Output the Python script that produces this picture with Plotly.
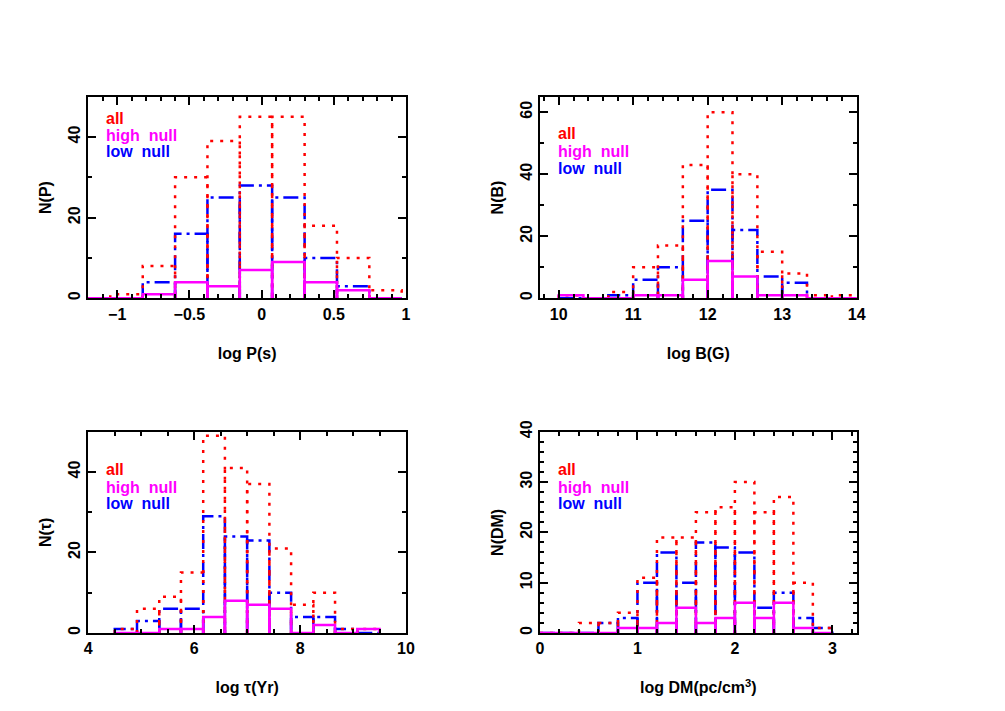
import plotly.graph_objects as go

# ---- data (bin edges + counts per bin) ----
# panel 1: log P(s)
p_edges = [-1.272, -1.048, -0.823, -0.599, -0.375, -0.151, 0.073, 0.298, 0.522, 0.746, 0.970]
p_all = [0, 1, 8, 30, 39, 45, 45, 18, 10, 2]
p_high = [0, 0, 1, 4, 3, 7, 9, 4, 2, 0]
p_low = [0, 0, 4, 16, 25, 28, 25, 10, 3, 0]

# panel 2: log B(G)
b_edges = [10.0, 10.333, 10.667, 11.0, 11.333, 11.667, 12.0, 12.333, 12.667, 13.0, 13.333, 13.667, 14.0]
b_all = [1, 0, 2, 10, 17, 43, 60, 40, 15, 8, 1, 1]
b_high = [1, 0, 0, 1, 1, 6, 12, 7, 1, 1, 0, 0]
b_low = [0, 0, 1, 6, 10, 25, 35, 22, 7, 5, 0, 0]

# panel 3: log tau(Yr)
t_edges = [4.50, 4.92, 5.34, 5.75, 6.17, 6.58, 7.00, 7.42, 7.83, 8.25, 8.66, 9.08, 9.50]
t_all = [1, 6, 9, 15, 49, 41, 37, 21, 7, 10, 1, 1]
t_high = [0, 0, 1, 1, 4, 8, 7, 6, 0, 2, 0, 1]
t_low = [1, 3, 6, 6, 29, 24, 23, 10, 4, 4, 1, 0]

# panel 4: log DM(pc/cm^3)
d_edges = [0.0, 0.2, 0.4, 0.6, 0.8, 1.0, 1.2, 1.4, 1.6, 1.8, 2.0, 2.2, 2.4, 2.6, 2.8, 3.0]
d_all = [0, 0, 2, 2, 4, 11, 19, 19, 24, 25, 30, 24, 27, 10, 1]
d_high = [0, 0, 0, 0, 1, 1, 2, 5, 2, 3, 6, 3, 6, 1, 0]
d_low = [0, 0, 0, 2, 3, 10, 16, 10, 18, 17, 16, 5, 8, 3, 1]

series_names = ["all", "high null", "low null"]
labels = {"all": "all", "high null": "high\u00a0\u00a0null", "low null": "low\u00a0\u00a0null"}
colors = {"all": "#ff0000", "high null": "#ff00ff", "low null": "#0000ff"}
dashes = {"all": "3px,7px", "high null": "solid", "low null": "15px,5px,3px,5px"}

FONT = "Liberation Sans"

# page body has an 8px margin, so the figure is a bit smaller than the window
W, H, OFF = 989, 695, 8


def xdom(x0, x1):
    return [(x0 - OFF) / W, (x1 - OFF) / W]


def ydom(top, bottom):
    return [1 - (bottom - OFF) / H, 1 - (top - OFF) / H]


def outline(edges, counts):
    # each bin drawn as its own open box, like the pgplot output
    xs, ys = [], []
    for i, c in enumerate(counts):
        xs += [edges[i], edges[i], edges[i + 1], edges[i + 1], None]
        ys += [0, c, c, 0, None]
    return xs, ys


panels = [
    dict(edges=p_edges, data={"all": p_all, "high null": p_high, "low null": p_low},
         xt="log P(s)", yt="N(P)", xr=[-1.2, 1.0], yr=[0, 50],
         xd=0.5, xm=0.1, yd=20, ym=10,
         dx=xdom(88.3, 406), dy=ydom(96.7, 298.3), ly=[0.894, 0.81, 0.726]),
    dict(edges=b_edges, data={"all": b_all, "high null": b_high, "low null": b_low},
         xt="log B(G)", yt="N(B)", xr=[9.75, 14.0], yr=[0, 65],
         xd=1, xm=0.2, yd=20, ym=10,
         dx=xdom(540, 856.7), dy=ydom(96.7, 298.3), ly=[0.815, 0.73, 0.645]),
    dict(edges=t_edges, data={"all": t_all, "high null": t_high, "low null": t_low},
         xt="log \u03c4(Yr)", yt="N(\u03c4)", xr=[4, 10], yr=[0, 50],
         xd=2, xm=0.5, yd=20, ym=10,
         dx=xdom(88.3, 406), dy=ydom(431.7, 633), ly=[0.81, 0.725, 0.645]),
    dict(edges=d_edges, data={"all": d_all, "high null": d_high, "low null": d_low},
         xt="log DM(pc/cm<sup>3</sup>)", yt="N(DM)", xr=[0, 3.25], yr=[0, 40],
         xd=1, xm=0.2, yd=10, ym=2,
         dx=xdom(540, 856.7), dy=ydom(431.7, 633), ly=[0.81, 0.725, 0.645]),
]

fig = go.Figure()
layout = dict(
    width=W, height=H, autosize=False,
    margin=dict(l=0, r=0, t=0, b=0, pad=0, autoexpand=False),
    paper_bgcolor="white", plot_bgcolor="white",
    showlegend=False,
    font=dict(family=FONT, size=16, color="black", weight="bold"),
)
annotations = []

for k, pn in enumerate(panels):
    idx = "" if k == 0 else str(k + 1)
    xa, ya = "x" + idx, "y" + idx
    # draw order: blue under red, magenta on top
    for name in ["low null", "all", "high null"]:
        xs, ys = outline(pn["edges"], pn["data"][name])
        fig.add_trace(go.Scatter(
            x=xs, y=ys, mode="lines", xaxis=xa, yaxis=ya, name=name,
            line=dict(color=colors[name], width=2.5, dash=dashes[name]),
            hoverinfo="skip", cliponaxis=True,
        ))
    axis_common = dict(
        showgrid=False, zeroline=False, showline=True, linecolor="black", linewidth=2,
        mirror="allticks", ticks="inside", ticklen=8, tickwidth=2, tickcolor="black",
        tickfont=dict(family=FONT, size=16, weight="bold"), automargin=False,
    )
    layout["xaxis" + idx] = dict(
        axis_common, domain=pn["dx"], range=pn["xr"], anchor=ya, dtick=pn["xd"],
        tick0=0, minor=dict(dtick=pn["xm"], ticks="inside", ticklen=4, tickwidth=2, tickcolor="black"),
        title=dict(text=pn["xt"], font=dict(family=FONT, size=16, weight="bold"), standoff=26),
    )
    layout["yaxis" + idx] = dict(
        axis_common, domain=pn["dy"], range=pn["yr"], anchor=xa, dtick=pn["yd"],
        tick0=0, tickangle=-90,
        minor=dict(dtick=pn["ym"], ticks="inside", ticklen=4, tickwidth=2, tickcolor="black"),
        title=dict(text=pn["yt"], font=dict(family=FONT, size=16, weight="bold"), standoff=10),
    )
    for name, yy in zip(series_names, pn["ly"]):
        annotations.append(dict(
            text=labels[name], xref=xa + " domain", yref=ya + " domain",
            x=0.05, y=yy, xanchor="left", yanchor="middle", showarrow=False,
            font=dict(family=FONT, size=16, color=colors[name], weight="bold"),
        ))

layout["annotations"] = annotations
fig.update_layout(**layout)
fig.write_html("out.html")
